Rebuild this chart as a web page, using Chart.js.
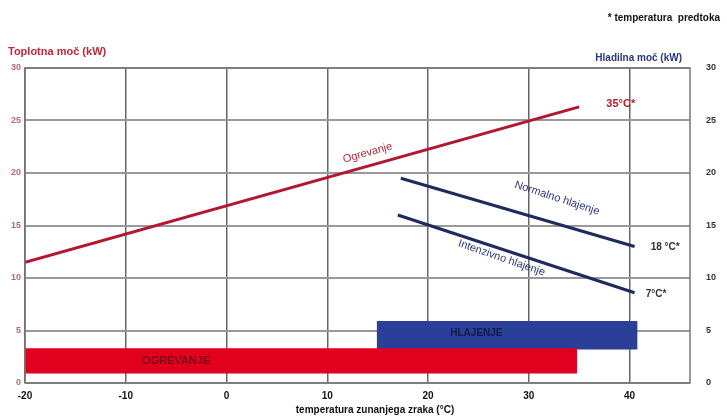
<!DOCTYPE html>
<html lang="sl">
<head>
  <meta charset="UTF-8" />
  <title>Toplotna in hladilna moč</title>
  <style>
    html, body { margin: 0; padding: 0; background: #fff; }
    #wrap { width: 727px; height: 419px; position: relative; }
  </style>
  <script src="https://cdn.jsdelivr.net/npm/chart.js"></script>
</head>
<body>
  <div id="wrap"><canvas id="chart" width="727" height="419"></canvas></div>
  <script>
    // data
    const xTicks = [-20, -10, 0, 10, 20, 30, 40];
    const yTicks = [0, 5, 10, 15, 20, 25, 30];

    const heatX = [-20, 35];
    const heatY = [11.5, 26.3];
    const coolNormalX = [17.3, 40.5];
    const coolNormalY = [19.5, 13.0];
    const coolIntenseX = [17, 40.5];
    const coolIntenseY = [16.0, 8.6];

    // operating ranges: [from x, to x, bottom y, top y]
    const heatRange = [-20, 34.8, 0.9, 3.3];
    const coolRange = [14.9, 40.8, 3.2, 5.9];

    const toPoints = (xs, ys) => xs.map((x, i) => ({ x: x, y: ys[i] }));
    const rangePoints = r => [{ x: r[0], y: r[3] }, { x: r[1], y: r[3] }];

    const FONT = '"Liberation Sans", Arial, sans-serif';

    const extraText = {
      id: 'extraText',
      afterDatasetsDraw(chart) {
        const { ctx, chartArea, scales } = chart;
        const xs = scales.x, ys = scales.y;
        const px = v => xs.getPixelForValue(v);
        const py = v => ys.getPixelForValue(v);

        // frame
        ctx.save();
        ctx.strokeStyle = '#777';
        ctx.lineWidth = 1.5;
        ctx.strokeRect(chartArea.left, chartArea.top, chartArea.right - chartArea.left, chartArea.bottom - chartArea.top);
        ctx.restore();

        function txt(s, x, y, color, size, bold, angle, align) {
          ctx.save();
          ctx.translate(x, y);
          if (angle) ctx.rotate(angle * Math.PI / 180);
          ctx.fillStyle = color;
          ctx.font = (bold ? 'bold ' : '') + size + 'px ' + FONT;
          ctx.textAlign = align || 'center';
          ctx.textBaseline = 'middle';
          ctx.fillText(s, 0, 0);
          ctx.restore();
        }

        txt('Ogrevanje', px(14), py(21.9), '#b8283a', 11, false, -15.5);
        txt('Normalno hlajenje', px(32.8), py(17.6), '#2a3580', 11, false, 18);
        txt('Intenzivno hlajenje', px(27.3), py(11.9), '#2a3580', 11, false, 19);
        txt('35°C*', px(37.7), py(26.6), '#c0172e', 11, true, 0, 'left');
        txt('18 °C*', px(42.1), py(12.9), '#333', 10, true, 0, 'left');
        txt('7°C*', px(41.6), py(8.5), '#333', 10, true, 0, 'left');
        txt('OGREVANJE', px(-5), py(2.1), '#7a0a16', 11, true);
        txt('HLAJENJE', px(24.8), py(4.7), '#121a4a', 10, true);

        txt('* temperatura  predtoka', 720, 18, '#111', 10, true, 0, 'right');
        txt('Toplotna moč (kW)', 8, 52, '#c0283c', 11, true, 0, 'left');
        txt('Hladilna moč (kW)', 682, 58, '#2a3580', 10, true, 0, 'right');
        txt('temperatura zunanjega zraka (°C)', 375, 410, '#111', 10, true);
      }
    };

    new Chart(document.getElementById('chart'), {
      type: 'line',
      data: {
        datasets: [
          {
            label: 'OGREVANJE',
            data: rangePoints(heatRange),
            borderWidth: 0,
            pointRadius: 0,
            backgroundColor: '#e2001f',
            fill: { value: heatRange[2] }
          },
          {
            label: 'HLAJENJE',
            data: rangePoints(coolRange),
            borderWidth: 0,
            pointRadius: 0,
            backgroundColor: '#2b3e98',
            fill: { value: coolRange[2] }
          },
          {
            label: 'Ogrevanje',
            data: toPoints(heatX, heatY),
            borderColor: '#b3162e',
            borderWidth: 3,
            pointRadius: 0,
            fill: false
          },
          {
            label: 'Normalno hlajenje',
            data: toPoints(coolNormalX, coolNormalY),
            borderColor: '#1f2a5e',
            borderWidth: 3,
            pointRadius: 0,
            fill: false,
            yAxisID: 'y2'
          },
          {
            label: 'Intenzivno hlajenje',
            data: toPoints(coolIntenseX, coolIntenseY),
            borderColor: '#1f2a5e',
            borderWidth: 3,
            pointRadius: 0,
            fill: false,
            yAxisID: 'y2'
          }
        ]
      },
      options: {
        responsive: false,
        animation: false,
        layout: { padding: { top: 68, left: 0, right: 0, bottom: 0 } },
        plugins: { legend: { display: false }, tooltip: { enabled: false } },
        scales: {
          x: {
            type: 'linear',
            min: -20,
            max: 46,
            afterBuildTicks: s => { s.ticks = xTicks.map(v => ({ value: v })); },
            afterFit: s => { s.height = 36; },
            grid: { color: '#666', lineWidth: 1.5, drawTicks: false },
            border: { display: false },
            ticks: { color: '#111', font: { family: FONT, size: 10, weight: 'bold' }, padding: 7 }
          },
          y: {
            min: 0,
            max: 30,
            afterBuildTicks: s => { s.ticks = yTicks.map(v => ({ value: v })); },
            afterFit: s => { s.width = 25; },
            grid: { color: '#999', lineWidth: 2, drawTicks: false },
            border: { display: false },
            ticks: { color: '#b56a72', font: { family: FONT, size: 9, weight: 'bold' }, padding: 4 }
          },
          y2: {
            position: 'right',
            min: 0,
            max: 30,
            afterBuildTicks: s => { s.ticks = yTicks.map(v => ({ value: v })); },
            afterFit: s => { s.width = 37; },
            grid: { display: false },
            border: { display: false },
            ticks: { color: '#333', font: { family: FONT, size: 9, weight: 'bold' }, padding: 8 }
          }
        }
      },
      plugins: [extraText]
    });
  </script>
</body>
</html>
